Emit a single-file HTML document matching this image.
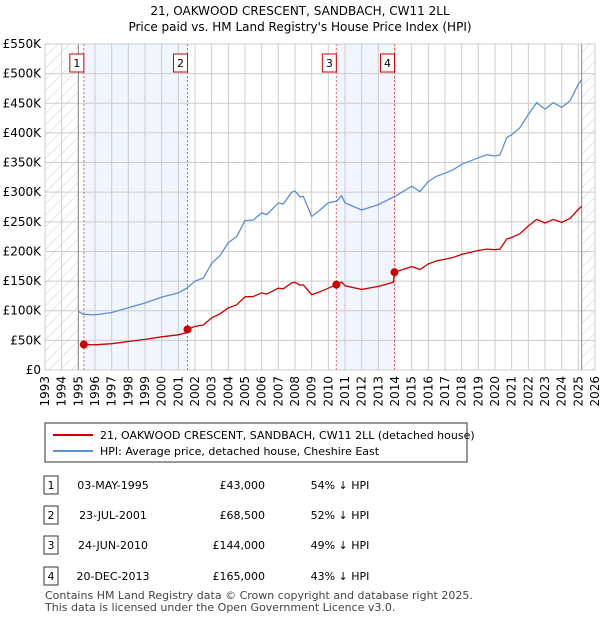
<!DOCTYPE html>
<html><head><meta charset="utf-8"><style>
body{margin:0;background:#fff;font-family:"Liberation Sans","DejaVu Sans",sans-serif;}
svg{display:block}
</style></head><body>
<svg width="600" height="620" xmlns="http://www.w3.org/2000/svg" font-family="DejaVu Sans, Liberation Sans, sans-serif">
<defs>
<pattern id="hatch" patternUnits="userSpaceOnUse" width="8" height="8" patternTransform="rotate(45)"><line x1="0" y1="0" x2="0" y2="8" stroke="#ccc" stroke-width="1"/></pattern>
</defs>
<text x="300" y="15" text-anchor="middle" font-size="12">21, OAKWOOD CRESCENT, SANDBACH, CW11 2LL</text>
<text x="300" y="31" text-anchor="middle" font-size="12">Price paid vs. HM Land Registry's House Price Index (HPI)</text>
<g id="plot"></g>
<g>
<rect x="45" y="423" width="422" height="39" fill="#fff" stroke="#333" stroke-width="1"/>
<line x1="53" y1="435" x2="93" y2="435" stroke="#cc0000" stroke-width="2"/>
<text x="100" y="439" font-size="11">21, OAKWOOD CRESCENT, SANDBACH, CW11 2LL (detached house)</text>
<line x1="53" y1="451" x2="93" y2="451" stroke="#5b8fd4" stroke-width="2"/>
<text x="100" y="455" font-size="11">HPI: Average price, detached house, Cheshire East</text>
</g>
<g id="table" font-size="11"></g>
<text x="45" y="599" font-size="11" fill="#444">Contains HM Land Registry data © Crown copyright and database right 2025.</text>
<text x="45" y="611" font-size="11" fill="#444">This data is licensed under the Open Government Licence v3.0.</text>
</svg>
<script>
const hpiYears=[1995.0,1995.3,1996,1997,1998,1999,2000,2001,2001.5,2002,2002.5,2003,2003.5,2004,2004.5,2005,2005.5,2006,2006.3,2007,2007.3,2007.8,2008,2008.3,2008.5,2009,2009.5,2010,2010.5,2010.8,2011,2012,2013,2014,2015,2015.5,2016,2016.5,2017,2017.5,2018,2019,2019.5,2020,2020.3,2020.7,2021,2021.5,2022,2022.5,2023,2023.5,2024,2024.5,2025,2025.2];
const hpiValues=[99,94,93,97,105,113,123,130,138,150,155,180,193,215,225,252,253,265,262,282,280,300,302,292,293,259,270,282,285,294,282,270,279,293,310,301,318,327,332,338,347,358,363,361,363,392,397,409,431,451,440,451,443,454,482,490];
const priceYears=[1995.33,1996,1997,1998,1999,2000,2001,2001.5,2001.55,2002,2002.5,2003,2003.5,2004,2004.5,2005,2005.5,2006,2006.3,2007,2007.3,2007.8,2008,2008.3,2008.5,2009,2009.5,2010,2010.48,2010.8,2011,2012,2013,2013.9,2013.97,2015,2015.5,2016,2016.5,2017,2017.5,2018,2019,2019.5,2020,2020.3,2020.7,2021,2021.5,2022,2022.5,2023,2023.5,2024,2024.5,2025,2025.2];
const priceValues=[43,42.5,44.3,48,51.6,56,59.4,63,68.5,73.5,76,88,94.6,105,110,123.5,124,130,128,138,137,147,148,143,143.6,127,132,138,144,148.5,142,136,141,148,165,174.5,169.5,179,184,187,190,195,201.6,204,203,204,221,223.5,230,243,254,248,254,249,255.6,271,276];
const saleLabels=["1","2","3","4"];
const saleYears=[1995.33,2001.55,2010.48,2013.97];
const saleValues=[43,68.5,144,165];
const saleDates=["03-MAY-1995","23-JUL-2001","24-JUN-2010","20-DEC-2013"];
const salePrices=["£43,000","£68,500","£144,000","£165,000"];
const saleHpi=["54% ↓ HPI","52% ↓ HPI","49% ↓ HPI","43% ↓ HPI"];
const yTicks=[0,50,100,150,200,250,300,350,400,450,500,550];
const yTickLabels=["£0","£50K","£100K","£150K","£200K","£250K","£300K","£350K","£400K","£450K","£500K","£550K"];
const xTicks=[];for(let y=1993;y<=2026;y++)xTicks.push(y);

const NS="http://www.w3.org/2000/svg";
const X0=45,X1=595,Y0=370,Y1=44;
const xs=t=>X0+(t-1993)/(2026-1993)*(X1-X0);
const ys=v=>Y0-v/550*(Y0-Y1);
const plot=document.getElementById('plot');
function mk(tag,attrs,parent){const e=document.createElementNS(NS,tag);for(const k in attrs)e.setAttribute(k,attrs[k]);(parent||plot).appendChild(e);return e;}

for(let i=0;i<4;i+=2){
 const r=mk('rect',{x:xs(saleYears[i]),y:Y1,width:xs(saleYears[i+1])-xs(saleYears[i]),height:Y0-Y1,fill:'#eef3fc',opacity:0.8});
 
 
}
const h1=mk('rect',{x:X0,y:Y1,width:xs(1995)-X0,height:Y0-Y1,fill:'url(#hatch)'});


const h2=mk('rect',{x:xs(2025.2),y:Y1,width:X1-xs(2025.2),height:Y0-Y1,fill:'url(#hatch)'});


yTicks.forEach((v,i)=>{
 const l=mk('line',{x1:X0,x2:X1,y1:ys(v),y2:ys(v),stroke:'#ccc','stroke-width':1});
 
 
 const t=mk('text',{x:X0-4,y:ys(v)+4,'text-anchor':'end','font-size':12});
 t.textContent=yTickLabels[i];
 
 
});
xTicks.forEach(y=>{
 const l=mk('line',{x1:xs(y),x2:xs(y),y1:Y1,y2:Y0,stroke:'#ccc','stroke-width':1});
 
 
 const t=mk('text',{x:0,y:0,'text-anchor':'end','font-size':12,transform:`translate(${xs(y)+4},${Y0+6}) rotate(-90)`});
 t.textContent=y;
 
 
});
[1995,2025.2].forEach(y=>{const l=mk('line',{x1:xs(y),x2:xs(y),y1:Y1,y2:Y0,stroke:'#888','stroke-width':1});
 
 });
saleYears.forEach((s,i)=>{
 const l=mk('line',{x1:xs(s),x2:xs(s),y1:Y1,y2:Y0,stroke:'#e06060','stroke-width':1,'stroke-dasharray':'2,2'});
 
 
 const r=mk('rect',{x:xs(s)-14,y:54,width:14,height:18,fill:'#fff',stroke:'#cc0000','stroke-width':1});
 
 
 const t=mk('text',{x:xs(s)-7,y:67,'text-anchor':'middle','font-size':11});
 t.textContent=saleLabels[i];
 
 
});
const hp=mk('path',{d:hpiYears.map((t,i)=>(i?'L':'M')+xs(t).toFixed(1)+','+ys(hpiValues[i]).toFixed(1)).join(''),fill:'none',stroke:'#5b8fd4','stroke-width':1.3});


const pp=mk('path',{d:priceYears.map((t,i)=>(i?'L':'M')+xs(t).toFixed(1)+','+ys(priceValues[i]).toFixed(1)).join(''),fill:'none',stroke:'#cc0000','stroke-width':1.3});


saleYears.forEach((s,i)=>{
 const c=mk('circle',{cx:xs(s),cy:ys(saleValues[i]),r:4,fill:'#cc0000'});
 
 
});
const fr=mk('rect',{x:X0,y:Y1,width:X1-X0,height:Y0-Y1,fill:'none',stroke:'#ccc'});


const tb=document.getElementById('table');
const rowY=[485,515,545,576];
rowY.forEach((y,i)=>{
 const r=mk('rect',{x:44,y:y-9,width:14,height:18,fill:'#fff',stroke:'#333'},tb);
 
 
 const a=mk('text',{x:51,y:y+4,'text-anchor':'middle'},tb);a.textContent=saleLabels[i];
 
 
 const d=mk('text',{x:113,y:y+4,'text-anchor':'middle'},tb);d.textContent=saleDates[i];
 
 
 const p=mk('text',{x:265,y:y+4,'text-anchor':'end'},tb);p.textContent=salePrices[i];
 
 
 const h=mk('text',{x:340,y:y+4,'text-anchor':'middle'},tb);h.textContent=saleHpi[i];
 
 
});
</script>
</body></html>
